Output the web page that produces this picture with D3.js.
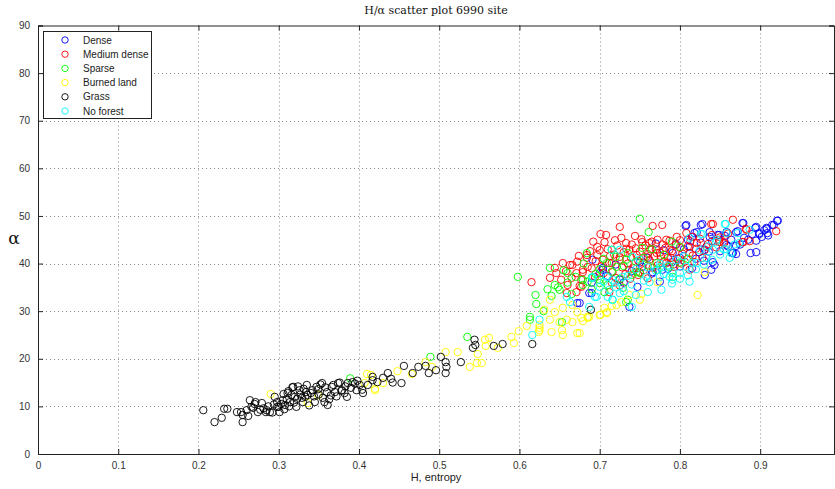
<!DOCTYPE html>
<html>
<head>
<meta charset="utf-8">
<script src="https://cdn.jsdelivr.net/npm/d3@7"></script>
<style>
  body { margin: 0; background: #fff; }
  text { font-family: "Liberation Sans", Arial, sans-serif; }
</style>
</head>
<body>
<div id="chart"></div>
<script>
// series, [H, alpha]
const dense = [
  [0.807,47.9],[0.828,48.3],[0.878,48.5],[0.894,47.5],[0.908,47.5],[0.915,48.1],[0.922,49.0],[0.899,46.4],
  [0.902,45.6],[0.909,46.4],[0.885,45.0],[0.870,46.6],[0.888,42.2],[0.895,42.4],[0.864,45.0],[0.866,42.2],
  [0.858,43.9],[0.847,46.0],[0.837,46.6],[0.841,40.3],[0.839,38.7],[0.818,46.4],[0.824,42.4],[0.812,43.5],
  [0.800,41.2],[0.791,42.2],[0.778,38.7],[0.766,38.2],[0.747,35.1],[0.737,30.9],[0.691,40.8],[0.704,38.7],
  [0.690,33.8],[0.675,31.7],[0.725,36.6],[0.753,39.3],[0.831,37.6],[0.672,31.7],[0.687,33.8],[0.704,39.1],
  [0.808,48.1],[0.826,48.1],[0.879,48.5],[0.872,46.8],[0.895,47.7],[0.899,46.2],[0.908,47.3],[0.910,45.9],
  [0.917,48.1],[0.921,49.0],[0.870,43.7],[0.865,42.2],[0.843,39.7],[0.837,45.6],[0.849,46.0],[0.858,46.6],
  [0.821,46.6],[0.815,45.6],[0.831,42.9],
  [0.760,41.2],[0.765,37.9],[0.770,44.2],[0.780,42.8],[0.790,40.3],[0.795,44.1],[0.800,39.4],[0.805,43.0],
  [0.810,45.0],[0.815,39.0],[0.820,41.0],[0.826,44.4],[0.830,40.6],[0.836,42.5],[0.840,44.7],[0.850,42.6],
  [0.856,45.8],[0.860,43.6],[0.870,42.0],[0.875,44.0],[0.880,45.4],[0.890,46.2],[0.895,44.8],[0.905,47.0],
  [0.750,40.2],[0.740,38.4],[0.730,36.0],[0.720,39.8],[0.710,37.4],[0.700,38.0],[0.690,36.0],[0.775,36.2],
  [0.785,38.9]
];
const mediumDense = [
  [0.725,47.7],[0.701,46.2],[0.727,45.4],[0.766,47.9],[0.778,48.1],[0.841,48.3],[0.866,49.2],[0.920,46.8],
  [0.882,47.3],[0.697,43.5],[0.684,41.2],[0.685,39.3],[0.679,38.2],[0.677,35.1],[0.694,37.2],[0.712,40.1],
  [0.753,44.5],[0.762,44.3],[0.772,45.0],[0.783,45.0],[0.796,45.6],[0.808,46.4],[0.816,45.6],[0.849,45.0],
  [0.878,44.5],[0.737,42.9],[0.746,41.8],[0.758,41.4],[0.771,42.2],[0.787,42.9],[0.800,43.3],[0.812,42.2],
  [0.737,38.7],[0.750,38.2],[0.766,39.1],[0.716,38.2],[0.704,40.8],[0.725,41.4],[0.783,40.1],[0.793,39.3],
  [0.812,38.7],[0.821,44.3],[0.833,43.5],
  [0.615,36.1],[0.638,37.0],[0.646,38.0],[0.654,40.1],[0.663,39.7],[0.666,39.7],[0.660,35.5],[0.671,34.0],
  [0.675,35.3],[0.671,38.0],[0.679,38.7],[0.684,41.8],[0.674,41.6],[0.697,41.8],[0.644,39.1],[0.659,33.8],
  [0.665,37.0],[0.677,36.6],[0.712,34.0],[0.715,40.1],[0.725,40.8],
  [0.839,48.3],[0.883,47.1],[0.879,44.5],[0.887,44.7],[0.849,44.5],[0.855,44.5],
  [0.740,44.0],[0.745,43.2],[0.750,42.5],[0.752,45.1],[0.755,40.2],[0.757,43.8],[0.760,42.0],[0.762,40.8],
  [0.765,44.6],[0.768,41.5],[0.770,43.0],[0.772,39.6],[0.775,42.3],[0.778,44.0],[0.780,40.5],[0.782,43.3],
  [0.785,41.2],[0.787,44.8],[0.790,42.6],[0.792,39.8],[0.795,43.9],[0.798,41.0],[0.800,44.9],[0.803,42.1],
  [0.806,40.4],[0.810,43.6],[0.813,44.7],[0.816,41.7],[0.820,43.1],[0.825,45.2],[0.830,42.7],[0.835,44.1],
  [0.840,46.0],[0.845,43.4],[0.850,45.5],[0.855,44.2],[0.860,46.3],[0.735,40.0],[0.730,42.4],[0.728,39.2],
  [0.732,37.8],[0.738,36.8],[0.742,39.0],[0.748,37.6],[0.755,38.6],[0.760,36.9],[0.722,43.8],[0.718,41.9],
  [0.710,43.0],[0.706,44.5],[0.700,42.8],[0.695,40.5],[0.690,39.0],[0.705,38.0],[0.715,36.0],[0.720,37.0],
  [0.725,35.4],
  [0.692,44.6],[0.708,46.0],[0.719,44.9],[0.733,44.3],[0.744,45.8],[0.739,41.3],[0.748,40.6],[0.763,43.0],
  [0.776,41.6],[0.789,41.2],[0.802,40.0],[0.818,40.3],[0.828,41.2],[0.733,43.1],[0.713,41.6],[0.702,39.4],
  [0.688,42.6],[0.672,40.4],[0.658,38.4],[0.652,36.6]
];
const sparse = [
  [0.750,49.4],[0.761,46.6],[0.684,42.2],[0.715,42.9],[0.753,43.3],[0.679,36.6],[0.700,36.6],[0.706,34.0],
  [0.729,34.9],[0.735,32.4],[0.721,39.3],[0.733,40.8],[0.771,40.1],[0.787,39.3],[0.791,37.2],[0.800,43.5],
  [0.772,38.7],[0.746,38.2],[0.709,40.1],
  [0.621,31.5],[0.638,39.1],[0.660,38.0],[0.644,35.5],[0.650,34.5],[0.679,35.5],[0.690,37.0],[0.700,35.9],
  [0.653,27.7],[0.613,28.8],[0.733,31.9],[0.598,37.2],
  [0.700,38.8],[0.705,41.0],[0.710,35.5],[0.715,38.3],[0.720,41.4],[0.725,36.8],[0.730,39.5],[0.735,42.2],
  [0.740,37.6],[0.745,40.4],[0.750,38.0],[0.755,41.2],[0.760,39.6],[0.765,43.0],[0.780,41.8],[0.790,44.6],
  [0.695,37.8],[0.690,34.6],[0.685,36.2],[0.680,40.0],[0.670,37.2],[0.665,33.6],[0.660,36.0],[0.655,38.6],
  [0.648,35.0],[0.640,33.2],[0.620,33.4],[0.630,30.0],[0.635,34.6],[0.810,41.0],[0.800,40.2],
  [0.389,15.9],[0.489,20.4],[0.535,24.6],[0.613,28.2]
];
const burned = [
  [0.831,38.2],[0.822,33.4],[0.752,33.6],[0.750,32.4],[0.737,33.4],[0.727,31.9],[0.715,31.1],[0.706,30.7],
  [0.701,29.2],[0.709,29.6],[0.685,28.8],[0.679,27.9],[0.675,25.4],[0.772,36.1],
  [0.638,32.4],[0.631,30.3],[0.644,29.8],[0.654,30.7],[0.666,31.3],[0.672,29.8],[0.687,28.8],[0.700,29.2],
  [0.709,29.8],[0.721,31.3],[0.638,28.2],[0.650,27.7],[0.659,28.2],[0.666,27.7],[0.677,28.6],[0.685,28.6],
  [0.625,26.0],[0.640,25.6],[0.653,26.0],[0.654,25.0],[0.672,25.4],[0.625,27.1],
  [0.420,13.7],[0.430,14.9],[0.448,17.4],[0.466,16.8],[0.483,19.3],[0.491,18.3],[0.508,21.4],[0.523,21.4],
  [0.538,18.3],[0.547,19.1],[0.553,19.1],[0.548,21.0],[0.557,24.0],[0.562,24.4],[0.558,22.7],[0.573,22.3],
  [0.590,24.6],[0.593,23.3],[0.599,25.8],[0.609,26.9],[0.625,26.5],[0.624,25.6],
  [0.290,12.6],[0.336,10.7],[0.349,12.4],[0.407,14.9],[0.410,16.8],[0.420,13.4],[0.415,16.6]
];
const grass = [
  [0.206,9.2],[0.220,6.7],[0.229,7.6],[0.232,9.5],[0.236,9.5],[0.248,8.8],[0.253,8.8],[0.255,6.7],
  [0.255,8.2],[0.260,9.2],[0.264,11.3],[0.268,9.7],[0.271,10.9],[0.274,8.8],[0.279,10.7],[0.285,9.2],
  [0.289,8.8],[0.295,12.0],[0.298,10.9],[0.298,9.9],[0.301,8.8],[0.305,11.3],[0.308,10.3],[0.311,12.8],
  [0.314,10.9],[0.318,14.1],[0.320,12.0],[0.322,9.9],[0.326,13.4],[0.330,10.9],[0.335,14.5],[0.336,12.4],
  [0.342,13.4],[0.345,10.9],[0.347,14.1],[0.354,14.9],[0.355,11.8],[0.360,13.0],[0.361,10.3],[0.366,14.1],
  [0.370,13.0],[0.374,14.9],[0.379,13.4],[0.382,12.8],[0.386,14.9],[0.392,15.1],[0.397,13.4],[0.401,14.5],
  [0.405,12.8],[0.411,14.5],[0.417,15.5],
  [0.262,8.0],[0.270,10.5],[0.277,9.3],[0.284,8.8],[0.292,8.7],[0.300,9.9],[0.303,10.5],[0.306,12.6],
  [0.310,11.5],[0.313,10.0],[0.317,14.0],[0.323,11.6],[0.327,12.5],[0.331,13.7],[0.333,12.0],[0.340,12.8],
  [0.350,12.5],[0.352,14.6],[0.357,10.9],[0.365,12.3],[0.368,14.5],[0.376,15.0],[0.378,13.3],[0.383,14.2],
  [0.390,13.9],[0.395,14.8],
  [0.417,16.2],[0.423,15.1],[0.430,16.0],[0.436,17.0],[0.440,15.8],[0.442,15.0],[0.453,14.9],[0.456,18.5],
  [0.467,17.0],[0.474,18.3],[0.483,18.5],[0.487,17.0],[0.496,17.6],[0.502,20.4],[0.508,19.3],[0.509,18.3],
  [0.508,17.0],[0.527,19.3],[0.542,22.3],[0.544,24.0],[0.545,22.9],[0.568,22.7],[0.579,23.1],[0.616,23.1],
  [0.689,30.3],
  [0.266,9.9],[0.281,9.6],[0.294,10.4],[0.307,9.4],[0.316,12.4],[0.324,14.2],[0.329,11.8],[0.338,10.2],
  [0.344,12.1],[0.349,13.6],[0.358,14.0],[0.363,11.5],[0.372,12.1],[0.385,12.0],[0.398,15.4],[0.404,13.5],
  [0.312,13.2],[0.319,10.8],[0.334,13.0],[0.287,10.0]
];
const noForest = [
  [0.857,48.3],[0.828,46.2],[0.812,45.4],[0.846,45.0],[0.858,46.4],[0.874,44.3],[0.887,47.1],[0.841,42.9],
  [0.833,41.2],[0.821,40.1],[0.808,39.3],[0.800,38.0],[0.787,37.2],[0.775,37.2],[0.762,36.1],[0.777,34.5],
  [0.791,36.6],[0.758,37.2],[0.741,41.4],[0.750,40.8],[0.729,37.2],[0.716,36.6],[0.712,34.5],[0.700,35.1],
  [0.691,37.2],[0.694,33.0],[0.716,32.4],[0.725,33.8],[0.740,30.9],[0.687,30.9],[0.775,39.3],[0.725,42.9],
  [0.715,42.9],
  [0.616,25.0],[0.625,28.2],[0.659,33.0],[0.663,31.9],[0.696,33.0],[0.691,37.0],[0.716,32.4],[0.719,35.9],
  [0.709,37.2],[0.856,48.3],[0.826,46.2],[0.872,46.4],[0.864,42.2],[0.858,43.0],
  [0.770,38.5],[0.775,40.0],[0.780,37.8],[0.785,39.6],[0.790,38.2],[0.795,40.7],[0.800,36.8],[0.805,41.5],
  [0.810,37.5],[0.815,40.2],[0.820,38.8],[0.825,42.8],[0.830,39.8],[0.835,43.6],[0.840,40.8],[0.845,44.5],
  [0.850,41.9],[0.855,43.0],[0.862,41.2],[0.868,44.0],[0.760,39.2],[0.755,36.4],[0.745,38.8],[0.740,35.6],
  [0.735,37.4],[0.730,34.2],[0.720,35.0],[0.710,33.0],[0.705,36.2],[0.745,33.4],[0.760,34.0],[0.790,35.8],
  [0.812,36.2]
];

const seriesNames = ["Dense", "Medium dense", "Sparse", "Burned land", "Grass", "No forest"];
const seriesColors = ["#0000ff", "#ff0000", "#00ff00", "#ffff00", "#000000", "#00ffff"];
const seriesData = [dense, mediumDense, sparse, burned, grass, noForest];
const xTicks = [0, 0.1, 0.2, 0.3, 0.4, 0.5, 0.6, 0.7, 0.8, 0.9];
const yTicks = [0, 10, 20, 30, 40, 50, 60, 70, 80, 90];

const width = 835, height = 489;
const mLeft = 38, mRight = 834, mTop = 25.5, mBottom = 454;

const svg = d3.select("#chart")
  .append("svg")
  .attr("width", width)
  .attr("height", height);

const x = d3.scaleLinear().domain([0, 0.992]).range([mLeft, mRight]);
const y = d3.scaleLinear().domain([0, 90]).range([mBottom, mTop]);

// grid, dotted like matlab
const grid = svg.append("g").attr("stroke", "#888").attr("stroke-dasharray", "1,3").attr("stroke-width", 1);
grid.selectAll(".gx")
  .data(xTicks.slice(1))
  .join("line")
  .attr("x1", d => Math.round(x(d)) + 0.5).attr("x2", d => Math.round(x(d)) + 0.5)
  .attr("y1", mTop).attr("y2", mBottom);
grid.selectAll(".gy")
  .data(yTicks.slice(1, -1))
  .join("line")
  .attr("y1", d => Math.round(y(d)) + 0.5).attr("y2", d => Math.round(y(d)) + 0.5)
  .attr("x1", mLeft).attr("x2", mRight);

// points
seriesData.forEach((pts, i) => {
  svg.append("g")
    .selectAll("circle")
    .data(pts)
    .join("circle")
    .attr("cx", d => x(d[0]))
    .attr("cy", d => y(d[1]))
    .attr("r", 3.7)
    .attr("fill", "none")
    .attr("stroke", seriesColors[i])
    .attr("stroke-width", 0.9);
});

// axes, ticks inside on all sides
const xAxis = svg.append("g")
  .attr("transform", `translate(0,${mBottom})`)
  .call(d3.axisBottom(x).tickValues(xTicks).tickSize(-5).tickPadding(8).tickFormat(d3.format("~g")));
const xAxisTop = svg.append("g")
  .attr("transform", `translate(0,${mTop})`)
  .call(d3.axisTop(x).tickValues(xTicks).tickSize(-5).tickFormat(""));
const yAxis = svg.append("g")
  .attr("transform", `translate(${mLeft},0)`)
  .call(d3.axisLeft(y).tickValues(yTicks).tickSize(-5).tickPadding(8));
const yAxisRight = svg.append("g")
  .attr("transform", `translate(${mRight},0)`)
  .call(d3.axisRight(y).tickValues(yTicks).tickSize(-5).tickFormat(""));

[xAxis, xAxisTop, yAxis, yAxisRight].forEach(g => {
  g.select(".domain").attr("stroke", "#222");
  g.selectAll(".tick line").attr("stroke", "#222");
  g.selectAll("text").attr("font-size", 10).attr("fill", "#333")
    .attr("font-family", "Liberation Sans, Arial, sans-serif");
});

// title and labels
svg.append("text")
  .attr("x", (mLeft + mRight) / 2)
  .attr("y", 14)
  .attr("text-anchor", "middle")
  .style("font-family", "DejaVu Serif, serif")
  .attr("font-size", 11)
  .attr("fill", "#111")
  .text("H/α scatter plot 6990 site");

svg.append("text")
  .attr("x", (mLeft + mRight) / 2)
  .attr("y", 481)
  .attr("text-anchor", "middle")
  .attr("font-size", 11)
  .attr("fill", "#222")
  .text("H, entropy");

svg.append("text")
  .attr("x", 14)
  .attr("y", 244)
  .attr("text-anchor", "middle")
  .style("font-family", "DejaVu Serif, serif")
  .attr("font-size", 17)
  .attr("fill", "#111")
  .text("α");

// legend
const legend = svg.append("g");
legend.append("rect")
  .attr("x", 43.5).attr("y", 31.5)
  .attr("width", 108).attr("height", 87)
  .attr("fill", "#fff").attr("stroke", "#222");
const items = legend.selectAll(".item")
  .data(seriesNames)
  .join("g")
  .attr("transform", (d, i) => `translate(0,${40 + i * 14.2})`);
items.append("circle")
  .attr("cx", 65).attr("cy", 0).attr("r", 3.2)
  .attr("fill", "none")
  .attr("stroke", (d, i) => seriesColors[i])
  .attr("stroke-width", 0.9);
items.append("text")
  .attr("x", 83).attr("y", 3.5)
  .attr("font-size", 10)
  .attr("fill", "#222")
  .text(d => d);
</script>
</body>
</html>
